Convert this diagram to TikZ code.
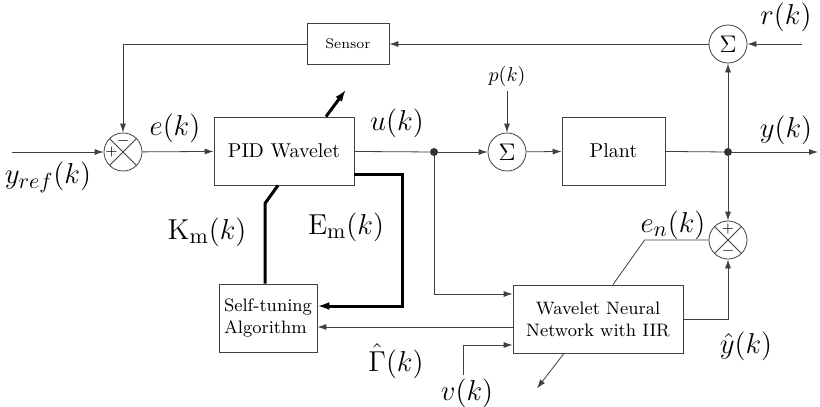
\documentclass[tikz,border=0pt]{standalone}
\usetikzlibrary{arrows.meta}
\tikzset{
  blk/.style={draw=black!75, minimum height=34pt, inner sep=1pt, align=center},
  summ/.style={draw=black!75, circle, minimum size=19pt, inner sep=0pt, font=\large},
  cross/.style={summ, path picture={\draw[black!75] (path picture bounding box.north west) -- (path picture bounding box.south east) (path picture bounding box.north east) -- (path picture bounding box.south west);}},
  sgn/.style={font=\scriptsize, inner sep=0pt},
  lbl/.style={font=\fontsize{15.5}{18}\selectfont, inner sep=0pt},
  con/.style={draw=black!75, -{Latex[length=4.5pt,width=3pt]}},
  ln/.style={draw=black!75},
  thk/.style={draw=black, line width=1.5pt},
  dot/.style={circle, fill=black!80, minimum size=4pt, inner sep=0pt},
}
\begin{document}
\begin{tikzpicture}[x=0.5pt,y=-0.5pt]
\useasboundingbox (0,0) rectangle (820,407);

\node[cross] (s1) at (123,152) {};
\node[sgn] at ([xshift=4pt]s1.west) {$+$};
\node[sgn] at ([yshift=-4pt]s1.north) {$-$};
\node[blk, minimum width=70pt] (pid) at (284,151) {PID Wavelet};
\node[blk, minimum width=41pt, minimum height=20.5pt, font=\scriptsize] (sen) at (348,44) {Sensor};
\node[summ] (s2) at (728,44) {$\Sigma$};
\node[summ] (s3) at (507,152) {$\Sigma$};
\node[blk, minimum width=51.5pt] (plant) at (613.5,151) {Plant};
\node[dot] (d1) at (434,152) {};
\node[dot] (d2) at (728,152) {};
\node[cross] (s4) at (728,240) {};
\node[sgn] at ([yshift=-4pt]s4.north) {$+$};
\node[sgn] at ([yshift=4pt]s4.south) {$-$};
\node[blk, minimum width=85pt, font=\small] (wnn) at (598,319) {Wavelet Neural\\Network with IIR};
\node[blk, minimum width=49pt, font=\small, align=left] (st) at (268,318) {Self-tuning\\Algorithm};

\coordinate (yin) at (12,152);
\coordinate (rin) at (802,44);
\coordinate (yout) at (818,152);
\coordinate (pin) at (507,91);
\coordinate (vin) at (463,375);

% main loop
\draw[con] (yin) -- (s1);
\draw[con] (s1) -- (pid);
\draw[ln] (pid) -- (d1);
\draw[con] (d1) -- (s3);
\draw[con] (pin) -- (s3);
\draw[con] (s3) -- (plant);
\draw[ln] (plant) -- (d2);
\draw[con] (d2) -- (yout);
\draw[con] (d2) -- (s2);
\draw[con] (rin) -- (s2);
\draw[con] (s2) -- (sen);
\draw[con] (sen.west) -| (s1.north);

% identifier
\draw[con] (d2) -- (s4);
\draw[con] (d1) |- ([yshift=12.5pt]wnn.west);
\draw[con] (vin) |- ([yshift=-13pt]wnn.west);
\draw[con] (wnn.east) -| (s4.south);
\draw[ln] (s4.west) -- ++(-64,0) -- ([xshift=7.5pt]wnn.north);
\draw[con] ([xshift=-17pt]wnn.south) -- ++(-27,35);
\draw[con] ([yshift=-4pt]wnn.west) -- ([yshift=-4pt]wnn.west -| st.east);

% tuning
\draw[thk, -{Latex[length=6pt,width=4pt]}] ([xshift=21pt]pid.north) -- ++(20,-27);
\draw[thk] ([xshift=-3pt]pid.south) -- ++(-13,18) -- ([xshift=-1.5pt]st.north);
\draw[thk, -{Latex[length=6pt,width=4pt]}] ([yshift=-11.5pt]pid.east) -- ++(48,0) |- ([yshift=6pt]st.east);

% labels
\node[lbl] (lyr) at (48,177) {$y_{ref}(k)$};
\node[lbl] (le) at (175,128) {$e(k)$};
\node[lbl] (lu) at (397,123) {$u(k)$};
\node (lp) at (507,76) {$p(k)$};
\node[lbl] (lr) at (786,17) {$r(k)$};
\node[lbl] (ly) at (786,130) {$y(k)$};
\node[lbl] (len) at (673,225) {$e_n(k)$};
\node[lbl] (lyh) at (746,346) {$\hat{y}(k)$};
\node[lbl] (lg) at (396,361) {$\hat{\Gamma}(k)$};
\node[lbl] (lv) at (467,393) {$v(k)$};
\node[lbl] (lk) at (207,232) {$\mathrm{K}_{\mathrm{m}}(k)$};
\node[lbl] (lem) at (346,227) {$\mathrm{E}_{\mathrm{m}}(k)$};
\end{tikzpicture}
\end{document}
